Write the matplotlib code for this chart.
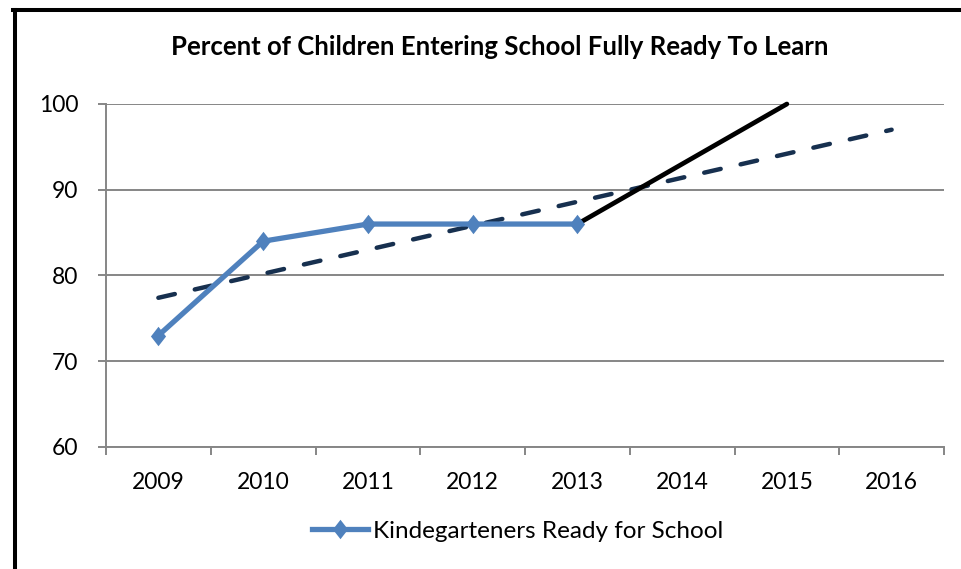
import numpy as np
import matplotlib
matplotlib.use("Agg")
import matplotlib.pyplot as plt
from matplotlib.lines import Line2D

plt.rcParams['font.family'] = ['Lato', 'DejaVu Sans']

# data
years = ['2009', '2010', '2011', '2012', '2013', '2014', '2015', '2016']
ready = [73, 84, 86, 86, 86]            # 2009-2013
target_years = ['2013', '2014', '2015']
target = [86, 93, 100]
trend_years = ['2009', '2016']
trend = [77.4, 97.0]

title = 'Percent of Children Entering School Fully Ready To Learn'
legend_label = 'Kindegarteners Ready for School'

blue = '#4F81BD'
navy = '#17304F'
grey = '#868686'

fig = plt.figure(figsize=(9.61, 5.69), dpi=100)
ax = fig.add_axes([106/961, 1-447/569, (944-106)/961, (447-104)/569])

pos = {y: i for i, y in enumerate(years)}

# diamond marker, a bit taller than wide
diamond = [(0, 1), (0.78, 0), (0, -1), (-0.78, 0), (0, 1)]

ax.plot([pos[y] for y in trend_years], trend, color=navy, lw=3.2,
        dashes=(3.8, 4.6), dash_capstyle='round', zorder=3)
ax.plot([pos[y] for y in target_years], target, color='black', lw=3.4,
        solid_capstyle='round', zorder=4, clip_on=False)
ax.plot(range(len(ready)), ready, color=blue, lw=3.8, marker=diamond,
        markersize=14, markeredgewidth=0, label=legend_label, zorder=5)

ax.set_xlim(-0.5, len(years)-0.5)
ax.set_ylim(60, 100)
ax.set_yticks([60, 70, 80, 90, 100])
ax.yaxis.grid(True, color=grey, lw=1.4)
ax.set_axisbelow(True)

ax.set_xticks(range(len(years)))
ax.set_xticklabels(years)
ax.set_xticks(np.arange(-0.5, len(years)), minor=True)
ax.tick_params(axis='x', which='major', length=0, pad=18, labelsize=16.5)
ax.tick_params(axis='x', which='minor', length=6, width=1.4, color=grey)
ax.tick_params(axis='y', length=6, width=1.4, color=grey, pad=14, labelsize=16.5)

for s in ['top', 'right']:
    ax.spines[s].set_visible(False)
for s in ['left', 'bottom']:
    ax.spines[s].set_color(grey)
    ax.spines[s].set_linewidth(1.4)

fig.text(0.52, 1-47/569, title, ha='center', va='center',
         fontsize=18.5, fontweight='bold')

fig.legend(loc='center', bbox_to_anchor=(0.539, 1-531/569), frameon=False,
           fontsize=17.5, handlelength=2.3, handletextpad=0.2)

# outer black frame (left and top)
fig.add_artist(Line2D([14.5/961, 14.5/961], [0, 1-9.5/569], color='black',
                      lw=2.9, transform=fig.transFigure))
fig.add_artist(Line2D([12.5/961, 1], [1-9.5/569, 1-9.5/569], color='black',
                      lw=2.9, transform=fig.transFigure))

fig.savefig('out.png', dpi=100)
